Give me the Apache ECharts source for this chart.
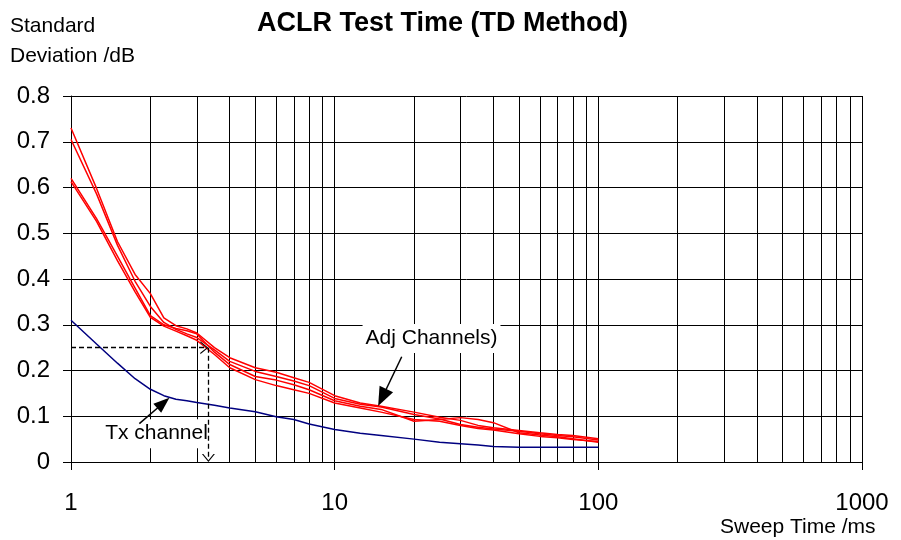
<!DOCTYPE html>
<html>
<head>
<meta charset="utf-8">
<script src="https://cdn.jsdelivr.net/npm/echarts@6/dist/echarts.min.js"></script>
<style>
  html, body { margin: 0; padding: 0; background: #fff; }
  #chart { width: 901px; height: 540px; }
</style>
</head>
<body>
<div id="chart"></div>
<script>
// sweep times (ms) at which the deviations were read
const sweepTimes = [1, 1.25, 1.5, 1.75, 2, 2.25, 2.5, 2.75, 3, 3.5, 4, 5, 6, 7, 8, 10, 12.5, 15, 20, 25, 30, 35, 40, 50, 60, 70, 80, 100]
// Tx channel (blue)
const txChannel = [0.310, 0.258, 0.216, 0.182, 0.159, 0.145, 0.137, 0.134, 0.130, 0.124, 0.118, 0.110, 0.099, 0.093, 0.083, 0.071, 0.063, 0.058, 0.050, 0.043, 0.040, 0.037, 0.034, 0.032, 0.032, 0.032, 0.032, 0.032]
// adjacent / alternate channels (red)
const adjChannel1 = [0.730, 0.598, 0.482, 0.410, 0.368, 0.315, 0.298, 0.291, 0.282, 0.250, 0.228, 0.206, 0.196, 0.184, 0.174, 0.145, 0.129, 0.122, 0.109, 0.098, 0.091, 0.080, 0.075, 0.069, 0.064, 0.060, 0.058, 0.051]
const adjChannel2 = [0.705, 0.586, 0.474, 0.395, 0.340, 0.305, 0.290, 0.280, 0.272, 0.245, 0.220, 0.198, 0.187, 0.177, 0.167, 0.139, 0.126, 0.120, 0.104, 0.094, 0.082, 0.076, 0.072, 0.067, 0.062, 0.058, 0.055, 0.048]
const adjChannel3 = [0.620, 0.532, 0.450, 0.380, 0.320, 0.300, 0.292, 0.287, 0.280, 0.240, 0.213, 0.187, 0.179, 0.169, 0.158, 0.134, 0.122, 0.115, 0.089, 0.093, 0.097, 0.093, 0.086, 0.064, 0.059, 0.055, 0.051, 0.043]
const adjChannel4 = [0.613, 0.526, 0.440, 0.372, 0.316, 0.297, 0.286, 0.276, 0.266, 0.235, 0.206, 0.180, 0.167, 0.158, 0.150, 0.129, 0.118, 0.109, 0.093, 0.089, 0.080, 0.073, 0.070, 0.062, 0.056, 0.053, 0.049, 0.045]

// minor vertical grid lines of the log axis
const minorGridX = [2, 3, 4, 5, 6, 7, 8, 9, 20, 30, 40, 50, 60, 70, 80, 90, 200, 300, 400, 500, 600, 700, 800, 900]

// annotations (data space)
const refLevel = 0.25
const refTime = 3.32
const adjArrow = [[17.96, 0.230], [15.15, 0.141]]
const txArrow = [[1.816, 0.084], [2.24, 0.129]]
const adjLabel = [23.3, 0.27]
const txLabel = [2.11, 0.062]

const FONT = 'Liberation Sans, Arial, sans-serif'
const openArrow = 'path://M0,8L6.5,0L13,8L11.6,8L6.5,1.7L1.4,8Z'

const pairs = ys => sweepTimes.map((x, i) => [x, ys[i]])

const chart = echarts.init(document.getElementById('chart'))

const redLine = (name, ys) => ({
  name: name,
  type: 'line',
  data: pairs(ys),
  showSymbol: false,
  symbol: 'none',
  lineStyle: { color: '#ff0000', width: 1.5 },
  itemStyle: { color: '#ff0000' },
  z: 3
})

const option = {
  animation: false,
  backgroundColor: '#fff',
  title: [
    {
      text: 'ACLR Test Time (TD Method)',
      left: 257,
      top: 10,
      padding: 0,
      textStyle: { fontFamily: FONT, fontSize: 27, fontWeight: 'bold', color: '#000' }
    },
    {
      text: 'Standard\nDeviation /dB',
      left: 10,
      top: 11,
      padding: 0,
      textStyle: { fontFamily: FONT, fontSize: 21, fontWeight: 'normal', color: '#000', lineHeight: 30 }
    },
    {
      text: 'Sweep Time /ms',
      left: 720,
      top: 517,
      padding: 0,
      textStyle: { fontFamily: FONT, fontSize: 21, fontWeight: 'normal', color: '#000' }
    }
  ],
  grid: {
    left: 71,
    right: 39,
    top: 96,
    bottom: 78,
    containLabel: false,
    outerBoundsMode: 'none'
  },
  xAxis: {
    type: 'log',
    logBase: 10,
    min: 1,
    max: 1000,
    axisLine: { show: true, lineStyle: { color: '#000', width: 1 } },
    axisTick: { show: true, length: 8, lineStyle: { color: '#000' } },
    axisLabel: {
      fontFamily: FONT,
      fontSize: 24,
      color: '#000',
      margin: 29,
      formatter: v => String(Math.round(v))
    },
    splitLine: { show: true, lineStyle: { color: '#000', width: 1 } },
    minorTick: { show: false },
    minorSplitLine: { show: false }
  },
  yAxis: {
    type: 'value',
    min: 0,
    max: 0.8,
    interval: 0.1,
    axisLine: { show: true, lineStyle: { color: '#000', width: 1 } },
    axisTick: { show: true, length: 8, lineStyle: { color: '#000' } },
    axisLabel: { fontFamily: FONT, fontSize: 24, color: '#000', margin: 21 },
    splitLine: { show: true, lineStyle: { color: '#000', width: 1 } }
  },
  series: [
    {
      name: 'grid',
      type: 'line',
      data: [],
      silent: true,
      markLine: {
        silent: true,
        z: 1,
        symbol: ['none', 'none'],
        label: { show: false },
        lineStyle: { color: '#000', width: 1, type: 'solid' },
        emphasis: { disabled: true },
        data: minorGridX.map(v => ({ xAxis: v }))
      }
    },
    {
      name: 'Tx channel',
      type: 'line',
      data: pairs(txChannel),
      showSymbol: false,
      symbol: 'none',
      lineStyle: { color: '#000080', width: 1.5 },
      itemStyle: { color: '#000080' },
      z: 3
    },
    redLine('Adj 1', adjChannel1),
    redLine('Adj 2', adjChannel2),
    redLine('Adj 3', adjChannel3),
    redLine('Adj 4', adjChannel4),
    {
      name: 'annotations',
      type: 'line',
      data: [],
      silent: true,
      markLine: {
        silent: true,
        z: 6,
        label: { show: false },
        emphasis: { disabled: true },
        data: [
          [
            { coord: [1, refLevel], symbol: 'none', lineStyle: { color: '#000', width: 1.3, type: [5, 3] } },
            { coord: [refTime * 0.965, refLevel], symbol: openArrow, symbolSize: [13, 8] }
          ],
          [
            { coord: [refTime, refLevel], symbol: 'none', lineStyle: { color: '#000', width: 1.3, type: [5, 3] } },
            { coord: [refTime, 0.009], symbol: openArrow, symbolSize: [13, 8] }
          ],
          [
            { coord: adjArrow[0], symbol: 'none', lineStyle: { color: '#000', width: 1.5, type: 'solid' } },
            { coord: adjArrow[1], symbol: 'triangle', symbolSize: [15, 19] }
          ],
          [
            { coord: txArrow[0], symbol: 'none', lineStyle: { color: '#000', width: 1.5, type: 'solid' } },
            { coord: txArrow[1], symbol: 'triangle', symbolSize: [12, 16] }
          ]
        ]
      },
      markPoint: {
        silent: true,
        z: 5,
        symbol: 'rect',
        symbolSize: 1,
        itemStyle: { color: 'rgba(0,0,0,0)' },
        label: {
          show: true,
          position: 'inside',
          formatter: '{b}',
          fontFamily: FONT,
          fontSize: 21,
          color: '#000',
          backgroundColor: '#fff',
          padding: [4, 3]
        },
        data: [
          { name: 'Adj Channels)', coord: adjLabel },
          { name: 'Tx channel', coord: txLabel }
        ]
      }
    }
  ]
}

chart.setOption(option)
window.addEventListener('resize', function () {
  chart.resize()
})
</script>
</body>
</html>
